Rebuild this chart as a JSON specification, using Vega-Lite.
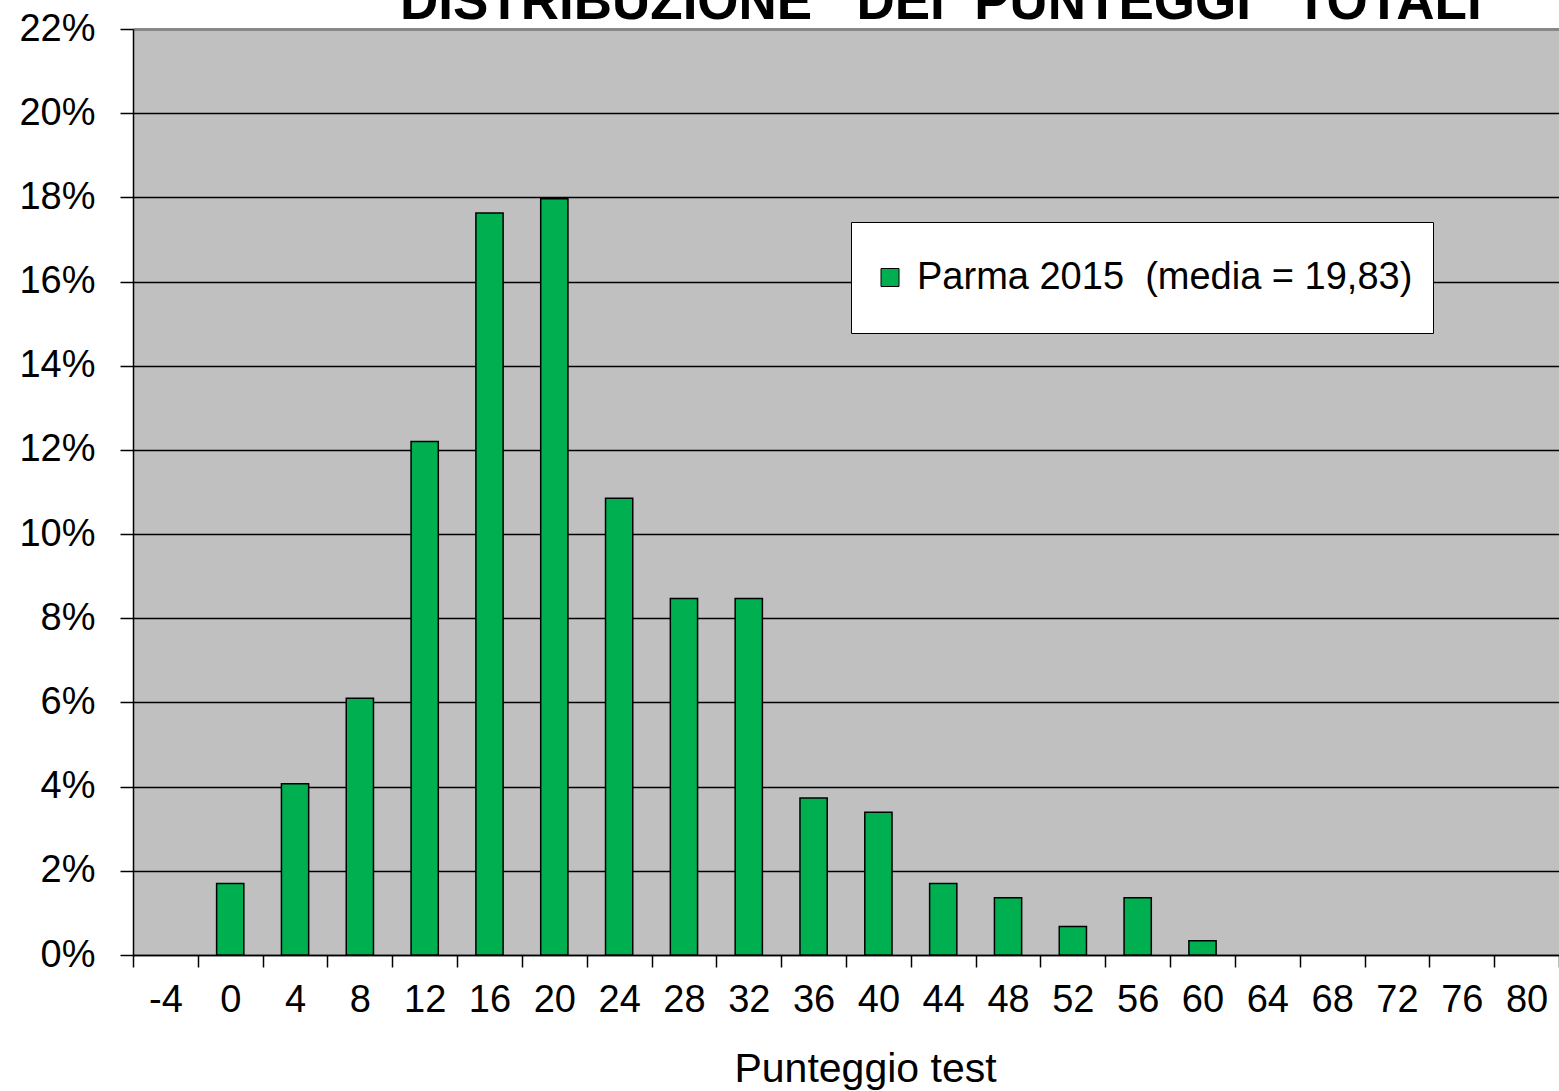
{
  "$schema": "https://vega.github.io/schema/vega-lite/v6.json",
  "width": 1426,
  "height": 926,
  "autosize": {"type": "none"},
  "padding": {"left": 133, "top": 29, "right": 0, "bottom": 136},
  "background": "white",
  "title": {
    "text": "DISTRIBUZIONE\u00a0\u00a0\u00a0DEI\u00a0\u00a0PUNTEGGI\u00a0\u00a0\u00a0TOTALI",
    "font": "Liberation Sans",
    "fontSize": 53,
    "fontWeight": "bold",
    "color": "black",
    "anchor": "start",
    "frame": "group",
    "dx": 267,
    "baseline": "alphabetic",
    "offset": -62
  },
  "config": {
    "font": "Liberation Sans",
    "view": {"fill": "#C0C0C0", "stroke": null}
  },
  "data": {
    "values": [
      {"score": 0, "pct": 0.0170, "series": "Parma 2015\u00a0\u00a0(media = 19,83)"},
      {"score": 4, "pct": 0.0407, "series": "Parma 2015\u00a0\u00a0(media = 19,83)"},
      {"score": 8, "pct": 0.0610, "series": "Parma 2015\u00a0\u00a0(media = 19,83)"},
      {"score": 12, "pct": 0.1220, "series": "Parma 2015\u00a0\u00a0(media = 19,83)"},
      {"score": 16, "pct": 0.1763, "series": "Parma 2015\u00a0\u00a0(media = 19,83)"},
      {"score": 20, "pct": 0.1797, "series": "Parma 2015\u00a0\u00a0(media = 19,83)"},
      {"score": 24, "pct": 0.1085, "series": "Parma 2015\u00a0\u00a0(media = 19,83)"},
      {"score": 28, "pct": 0.0847, "series": "Parma 2015\u00a0\u00a0(media = 19,83)"},
      {"score": 32, "pct": 0.0847, "series": "Parma 2015\u00a0\u00a0(media = 19,83)"},
      {"score": 36, "pct": 0.0373, "series": "Parma 2015\u00a0\u00a0(media = 19,83)"},
      {"score": 40, "pct": 0.0339, "series": "Parma 2015\u00a0\u00a0(media = 19,83)"},
      {"score": 44, "pct": 0.0170, "series": "Parma 2015\u00a0\u00a0(media = 19,83)"},
      {"score": 48, "pct": 0.0136, "series": "Parma 2015\u00a0\u00a0(media = 19,83)"},
      {"score": 52, "pct": 0.0068, "series": "Parma 2015\u00a0\u00a0(media = 19,83)"},
      {"score": 56, "pct": 0.0136, "series": "Parma 2015\u00a0\u00a0(media = 19,83)"},
      {"score": 60, "pct": 0.0034, "series": "Parma 2015\u00a0\u00a0(media = 19,83)"}
    ]
  },
  "mark": {"type": "bar", "width": {"band": 0.42}, "stroke": "black", "strokeWidth": 1.5},
  "encoding": {
    "x": {
      "field": "score",
      "type": "ordinal",
      "scale": {"domain": [-4, 0, 4, 8, 12, 16, 20, 24, 28, 32, 36, 40, 44, 48, 52, 56, 60, 64, 68, 72, 76, 80], "paddingInner": 0, "paddingOuter": 0},
      "axis": {
        "title": "Punteggio test",
        "titleFontSize": 41,
        "titleFontWeight": "normal",
        "titleColor": "black",
        "titleX": 732,
        "titlePadding": 30,
        "labelAngle": 0,
        "labelFontSize": 38,
        "labelColor": "black",
        "labelPadding": 14,
        "tickBand": "extent",
        "tickSize": 12,
        "tickColor": "black",
        "tickWidth": 1.5,
        "domainColor": "black",
        "domainWidth": 1.5,
        "grid": false
      }
    },
    "y": {
      "field": "pct",
      "type": "quantitative",
      "scale": {"domain": [0, 0.22], "nice": false},
      "axis": {
        "title": null,
        "format": ".0%",
        "values": [0, 0.02, 0.04, 0.06, 0.08, 0.1, 0.12, 0.14, 0.16, 0.18, 0.2, 0.22],
        "labelFontSize": 38,
        "labelColor": "black",
        "labelPadding": 25,
        "tickSize": 13,
        "tickColor": "black",
        "tickWidth": 1.5,
        "domainColor": "black",
        "domainWidth": 1.5,
        "grid": true,
        "gridColor": {"condition": {"test": "datum.value >= 0.219", "value": "#888888"}, "value": "black"},
        "gridWidth": {"condition": {"test": "datum.value >= 0.219", "value": 3}, "value": 1.5},
        "gridOpacity": 1
      }
    },
    "color": {
      "field": "series",
      "type": "nominal",
      "scale": {"range": ["#00B050"]},
      "legend": {
        "title": null,
        "orient": "none",
        "legendX": 718,
        "legendY": 193,
        "fillColor": "white",
        "strokeColor": "black",
        "padding": 20,
        "clipHeight": 71,
        "symbolType": "square",
        "symbolSize": 324,
        "symbolStrokeColor": "black",
        "symbolStrokeWidth": 1,
        "symbolOpacity": 1,
        "labelFontSize": 38,
        "labelColor": "black",
        "labelLimit": 800,
        "labelOffset": 8
      }
    }
  }
}
